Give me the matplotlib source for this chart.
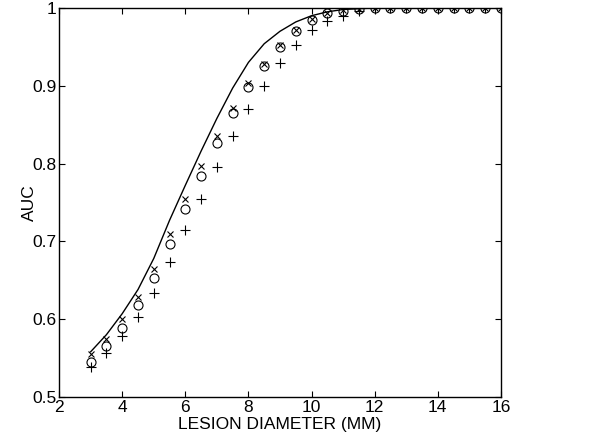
import matplotlib
matplotlib.use("Agg")
import matplotlib.pyplot as plt

plt.rcParams["font.family"] = ["Liberation Sans", "DejaVu Sans"]

diameter = [3, 3.5, 4, 4.5, 5, 5.5, 6, 6.5, 7, 7.5, 8, 8.5, 9, 9.5,
            10, 10.5, 11, 11.5, 12, 12.5, 13, 13.5, 14, 14.5, 15, 15.5, 16]

auc_curve = [0.558, 0.580, 0.607, 0.638, 0.678, 0.727, 0.772, 0.816, 0.858,
             0.897, 0.930, 0.954, 0.970, 0.982, 0.990, 0.995, 0.998, 0.999,
             1.0, 1.0, 1.0, 1.0, 1.0, 1.0, 1.0, 1.0, 1.0]

auc_x = [0.555, 0.574, 0.600, 0.629, 0.664, 0.709, 0.754, 0.797, 0.836,
         0.872, 0.903, 0.928, 0.952, 0.972, 0.986, 0.994, 0.997, 0.999,
         1.0, 1.0, 1.0, 1.0, 1.0, 1.0, 1.0, 1.0, 1.0]

auc_o = [0.545, 0.565, 0.589, 0.618, 0.653, 0.696, 0.741, 0.784, 0.826,
         0.865, 0.899, 0.926, 0.950, 0.970, 0.985, 0.993, 0.996, 0.999,
         1.0, 1.0, 1.0, 1.0, 1.0, 1.0, 1.0, 1.0, 1.0]

auc_plus = [0.539, 0.556, 0.578, 0.603, 0.634, 0.673, 0.715, 0.754, 0.795,
            0.835, 0.870, 0.900, 0.929, 0.952, 0.971, 0.983, 0.990, 0.996,
            1.0, 1.0, 1.0, 1.0, 1.0, 1.0, 1.0, 1.0, 1.0]

fig = plt.figure(figsize=(5.97, 4.41), dpi=100)
ax = fig.add_axes([0.099, 0.10, 0.740, 0.882])

ax.plot(diameter, auc_curve, color="black", linewidth=1)
ax.plot(diameter, auc_x, "x", color="black", markersize=4.5, markeredgewidth=0.8)
ax.plot(diameter, auc_o, "o", color="black", markerfacecolor="none",
        markersize=6.5, markeredgewidth=0.8)
ax.plot(diameter, auc_plus, "+", color="black", markersize=7, markeredgewidth=0.8)

ax.set_xlim(2, 16)
ax.set_ylim(0.5, 1)
ax.set_xticks([2, 4, 6, 8, 10, 12, 14, 16])
ax.set_yticks([0.5, 0.6, 0.7, 0.8, 0.9, 1])
ax.set_yticklabels(["0.5", "0.6", "0.7", "0.8", "0.9", "1"])
ax.tick_params(direction="in", top=True, right=True, length=4, width=0.8,
               labelsize=12.5, pad=2, colors="black")
for s in ax.spines.values():
    s.set_linewidth(1)

ax.set_xlabel("LESION DIAMETER (MM)", fontsize=12.5, labelpad=2)
ax.set_ylabel("AUC", fontsize=12.5)
ax.yaxis.set_label_coords(-0.05, 0.5)

fig.savefig("out.png", dpi=100)
